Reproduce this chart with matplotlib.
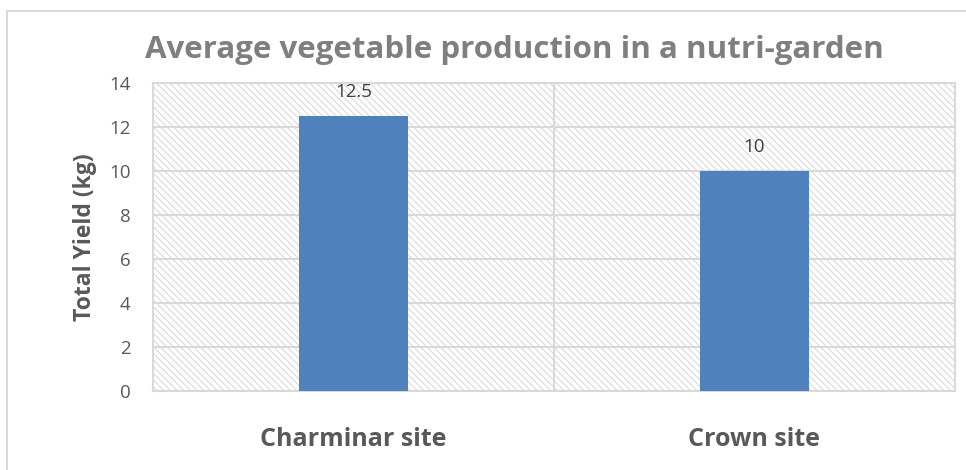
import matplotlib.pyplot as plt
from matplotlib.patches import Rectangle

# chart data
sites = ["Charminar site", "Crown site"]
yields = [12.5, 10]
y_ticks = [0, 2, 4, 6, 8, 10, 12, 14]

plt.rcParams['font.family'] = ['Open Sans', 'DejaVu Sans']
plt.rcParams['hatch.color'] = '#dadada'
plt.rcParams['hatch.linewidth'] = 0.8

fig = plt.figure(figsize=(9.66, 4.70), dpi=100)
ax = fig.add_axes([153 / 966, 79 / 470, 802 / 966, 308 / 470])

# outer chart border
fig.patches.append(Rectangle((7 / 966, -0.05), 1.0, (470 - 11) / 470 + 0.05,
                             transform=fig.transFigure, fill=False,
                             edgecolor='#d9d9d9', linewidth=1.5))

# hatched plot area background
ax.add_patch(Rectangle((0, 0), 1, 1, transform=ax.transAxes, facecolor='white',
                       edgecolor='#dadada', hatch='\\\\\\\\\\', linewidth=0, zorder=0))

x = range(len(sites))
bars = ax.bar(x, yields, width=0.273, color='#4f81bd', zorder=3)
for xi, v in zip(x, yields):
    ax.text(xi, v + 0.7, f"{v:g}", ha='center', va='bottom', fontsize=13.5, color='#404040')

ax.set_xlim(-0.5, 1.5)
ax.set_ylim(0, 14)
ax.set_yticks(y_ticks)
ax.set_xticks(list(x))
ax.set_xticklabels(sites, fontsize=18, fontweight='bold', color='#595959')
ax.tick_params(axis='y', labelsize=13.5, colors='#595959', length=0, pad=16)
ax.tick_params(axis='x', length=0, pad=26)

ax.grid(axis='y', color='#d9d9d9', linewidth=1.5, zorder=1)
ax.axvline(0.5, color='#d9d9d9', linewidth=1.5, zorder=1)
for s in ax.spines.values():
    s.set_color('#d9d9d9')
    s.set_linewidth(1.5)

ax.set_ylabel("Total Yield (kg)", fontsize=16.5, fontweight='bold', color='#595959', labelpad=9)
fig.text(514 / 966, 1 - 50 / 470, "Average vegetable production in a nutri-garden",
         ha='center', va='center', fontsize=22.5, fontweight='bold', color='#7f7f7f')

fig.savefig('out.png', dpi=100)
